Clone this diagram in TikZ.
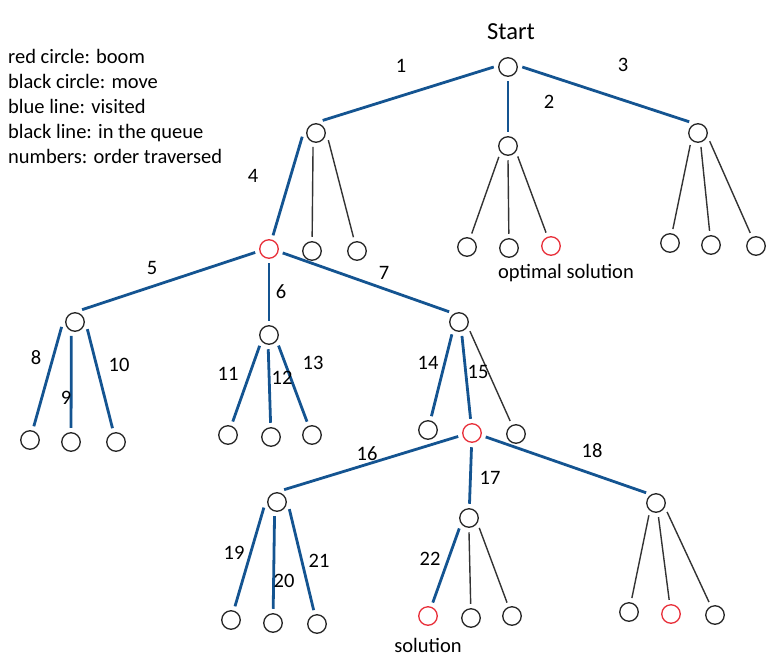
\documentclass[tikz,border=0pt]{standalone}
\usepackage{fontspec}
\setmainfont{Carlito}
\usetikzlibrary{positioning}

\definecolor{visitblue}{RGB}{20,84,145}
\definecolor{boomred}{RGB}{232,48,58}

\tikzset{
  move/.style={circle, draw=black!85, line width=1.3pt, minimum size=18.5pt, inner sep=0pt, outer sep=5pt},
  boom/.style={move, draw=boomred},
  visited/.style={draw=visitblue, line width=2.8pt},
  queued/.style={draw=black!80, line width=1.4pt},
  num/.style={font=\fontsize{20.5}{22}\selectfont, inner sep=0pt},
}

\begin{document}
\begin{tikzpicture}[x=1pt,y=-1pt]
\useasboundingbox (0,0) rectangle (778,661);

\node[align=left, anchor=west, inner sep=0pt, font=\fontsize{20.5}{25}\selectfont] (legend) at (8,106)
  {red circle: boom\\black circle: move\\blue line: visited\\black line: in the queue\\numbers: order traversed};

% level 0 and 1
\node[move] (r) at (508,67) {};
\node[font=\fontsize{24.5}{26}\selectfont] (start) at (511,32) {Start};
\node[move] (a) at (316,133) {};
\node[move] (b) at (508,146) {};
\node[move] (c) at (698,133) {};

% level 2
\node[boom] (a_1) at (269,249) {};
\node[move] (a_2) at (312,251) {};
\node[move] (a_3) at (357,251) {};
\node[move] (b_1) at (467,247) {};
\node[move] (b_2) at (509,248) {};
\node[boom] (b_3) at (551,246) {};
\node[move] (c_1) at (670,243) {};
\node[move] (c_2) at (711,245) {};
\node[move] (c_3) at (756,246) {};
\node[font=\fontsize{20.5}{22}\selectfont] (opt) at (566,273) {optimal solution};

% level 3
\node[move] (d) at (75,322) {};
\node[move] (e) at (269,335) {};
\node[move] (f) at (459,322) {};

% level 4
\node[move] (d_1) at (30,440) {};
\node[move] (d_2) at (71,442) {};
\node[move] (d_3) at (116,442) {};
\node[move] (e_1) at (228,435) {};
\node[move] (e_2) at (271,437) {};
\node[move] (e_3) at (312,435) {};
\node[move] (f_1) at (428,430) {};
\node[boom] (f_2) at (472,433) {};
\node[move] (f_3) at (516,434) {};

% level 5
\node[move] (g) at (277,502) {};
\node[move] (h) at (469,518) {};
\node[move] (i) at (656,503) {};

% level 6
\node[move] (g_1) at (231,620) {};
\node[move] (g_2) at (273,623) {};
\node[move] (g_3) at (317,624) {};
\node[boom] (h_1) at (428,616) {};
\node[move] (h_2) at (471,618) {};
\node[move] (h_3) at (512,616) {};
\node[move] (i_1) at (629,612) {};
\node[boom] (i_2) at (671,614) {};
\node[move] (i_3) at (715,615) {};
\node[font=\fontsize{20.5}{22}\selectfont] (sol) at (428,645) {solution};

\path[visited]
  (r.180) edge (a.62)  (r) edge (b)  (r.0) edge (c.128)
  (a.195) edge (a_1)
  (a_1.194) edge (d.60)  (a_1) edge (e)  (a_1.344) edge (f.134)
  (d.200) edge (d_1)  (d.255) edge (d_2)  (d.330) edge (d_3)
  (e.229) edge (e_1)  (e.267) edge (e_2)  (e.312) edge (e_3)
  (f.240) edge (f_1)  (f.282) edge (f_2)
  (f_2.194) edge (g.60)  (f_2) edge (h)  (f_2.344) edge (i.134)
  (g.203) edge (g_1)  (g.260) edge (g_2)  (g.330) edge (g_3)
  (h.227) edge (h_1)
  ;
\path[queued]
  (a.258) edge (a_2)  (a.330) edge (a_3)
  (b.230) edge (b_1)  (b.270) edge (b_2)  (b.313) edge (b_3)
  (c.237) edge (c_1)  (c.282) edge (c_2)  (c.325) edge (c_3)
  (f.320) edge (f_3)
  (h.270) edge (h_2)  (h.316) edge (h_3)
  (i.240) edge (i_1)  (i.280) edge (i_2)  (i.321) edge (i_3)
  ;

% order traversed
\node[num] (n1) at (401,66) {1};
\node[num] (n2) at (549,102) {2};
\node[num] (n3) at (623,65) {3};
\node[num] (n4) at (253,176) {4};
\node[num] (n5) at (152,268) {5};
\node[num] (n6) at (281,292) {6};
\node[num] (n7) at (384,273) {7};
\node[num] (n8) at (36,358) {8};
\node[num] (n9) at (66,398) {9};
\node[num] (n10) at (119,365) {10};
\node[num] (n11) at (228,374) {11};
\node[num] (n12) at (282,378) {12};
\node[num] (n13) at (313,363) {13};
\node[num] (n14) at (428,363) {14};
\node[num] (n15) at (478,372) {15};
\node[num] (n16) at (367,454) {16};
\node[num] (n17) at (490,478) {17};
\node[num] (n18) at (592,451) {18};
\node[num] (n19) at (234,553) {19};
\node[num] (n20) at (284,581) {20};
\node[num] (n21) at (319,561) {21};
\node[num] (n22) at (430,559) {22};

\end{tikzpicture}
\end{document}
